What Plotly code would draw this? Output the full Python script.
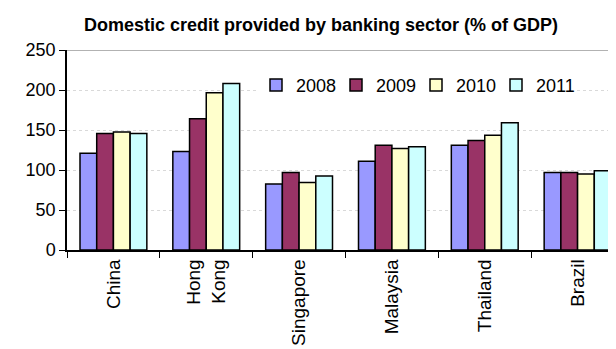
import plotly.graph_objects as go

categories = ["China", "Hong<br>Kong", "Singapore", "Malaysia", "Thailand", "Brazil"]
years = ["2008", "2009", "2010", "2011"]
v2008 = [121, 123, 82.5, 111, 131, 97]
v2009 = [145.5, 164, 97, 131, 137, 97]
v2010 = [147.5, 196.5, 84.5, 127, 143.5, 95]
v2011 = [145.5, 208, 92.5, 129, 159, 99]
series = [v2008, v2009, v2010, v2011]
colors = ["#9999FF", "#993366", "#FFFFCC", "#CCFFFF"]
y_ticks = [0, 50, 100, 150, 200, 250]

fig = go.Figure()
for name, vals, col in zip(years, series, colors):
    fig.add_trace(go.Bar(
        x=categories, y=vals, name=name,
        marker=dict(color=col, line=dict(color="#000000", width=1.5)),
    ))

font_family = "Liberation Sans, Arial, sans-serif"
fig.update_layout(
    width=616, height=349,
    margin=dict(l=59, r=0, t=42, b=107),
    paper_bgcolor="white", plot_bgcolor="white",
    barmode="group", bargap=0.28, bargroupgap=0,
    font=dict(family=font_family, color="#000000", size=18),
    title=dict(text="<b>Domestic credit provided by banking sector (% of GDP)</b>",
               x=313/616, xanchor="center", y=1 - 17/349, yanchor="middle",
               font=dict(size=18, family=font_family)),
    legend=dict(orientation="h", x=(248-59)/557, xanchor="left",
                y=(241.7-77)/200, yanchor="middle",
                bgcolor="white", font=dict(size=18),
                itemwidth=30, entrywidth=35, entrywidthmode="pixels",
                tracegroupgap=0),
    showlegend=True,
)
fig.update_xaxes(
    tickangle=-90, showline=True, linecolor="#000000", linewidth=1.5,
    ticks="outside", tickson="boundaries", ticklen=6, tickcolor="#000000",
    tickfont=dict(size=19), showgrid=False, automargin=False,
)
fig.update_yaxes(
    range=[0, 250], tickvals=y_ticks, showline=True, linecolor="#000000",
    linewidth=1.5, ticks="outside", ticklen=6, tickcolor="#000000",
    showgrid=True, gridcolor="#D9D9D9", griddash="dot", gridwidth=1,
    zeroline=False, tickfont=dict(size=18), automargin=False,
)
fig.add_shape(type="line", xref="paper", yref="y", x0=0, x1=1, y0=250, y1=250,
              line=dict(color="#999999", width=1.5))
fig.write_html("out.html")
